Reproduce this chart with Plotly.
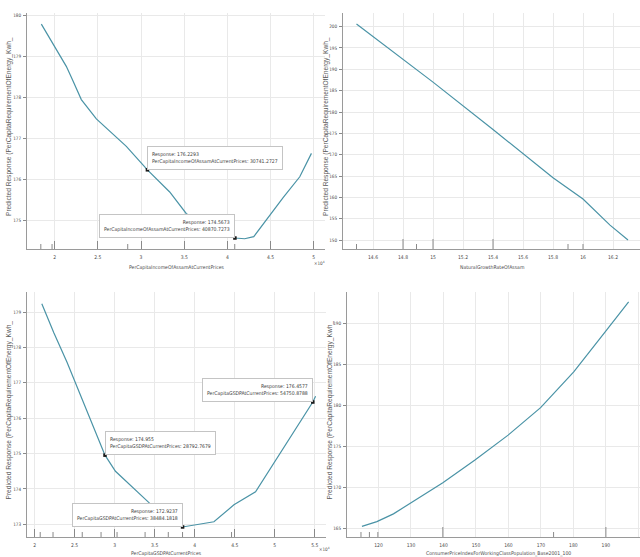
import plotly.graph_objects as go

W, H = 640, 557

# ---- partial dependence curves -------------------------------------------
income_x = [18460, 20000, 21350, 22050, 23090, 24830, 26370, 28300, 30741.2727,
            33320, 35250, 38000, 40000, 40870.7273, 42000, 43050, 44520, 46450,
            48380, 49730]
income_y = [179.78, 179.24, 178.75, 178.43, 177.94, 177.47, 177.18, 176.80, 176.2293,
            175.69, 175.16, 174.85, 174.63, 174.5673, 174.55, 174.60, 175.02, 175.55,
            176.06, 176.63]

growth_x = [14.49, 14.8, 15.0, 15.4, 15.8, 16.0, 16.18, 16.3]
growth_y = [200.6, 192.4, 187.0, 175.9, 164.6, 159.6, 153.5, 150.0]

gsdp_x = [20900, 22400, 24050, 26100, 27500, 28792.7679, 30100, 34250, 36000,
          38484.1818, 42400, 44900, 47600, 49900, 52400, 54750.8788, 55100]
gsdp_y = [179.24, 178.42, 177.58, 176.44, 175.66, 174.955, 174.50, 173.62, 173.28,
          172.9237, 173.07, 173.55, 173.92, 174.74, 175.60, 176.4577, 176.62]

cpi_x = [114.9, 119.5, 124.6, 129.8, 139.8, 149.8, 159.9, 169.9, 180.1, 190.2, 197.0]
cpi_y = [165.28, 165.85, 166.80, 168.10, 170.60, 173.40, 176.40, 179.75, 184.10,
         189.20, 192.65]

# ---- data tips (x, response, side of the box) ------------------------------
income_tips = [(30741.2727, 176.2293, "left"), (40870.7273, 174.5673, "right")]
gsdp_tips = [(28792.7679, 174.955, "left"), (38484.1818, 172.9237, "right"),
             (54750.8788, 176.4577, "right")]

# ---- observation rugs along the x axes (value, multiplicity) ---------------
income_rug = [(18400, 1), (19700, 1), (28460, 1), (40850, 1)]
growth_rug = [(14.49, 1), (14.8, 2), (14.89, 1), (15.0, 2), (15.4, 2), (15.9, 1), (16.0, 1)]
gsdp_rug = [(20700, 1), (22300, 1), (25950, 1), (28300, 1), (30300, 1), (33800, 1),
            (36700, 1), (38480, 1), (44600, 1)]
cpi_rug = [(114.6, 1), (117.2, 1), (119.8, 1), (139.8, 2), (173.9, 1), (190.0, 2)]

# ---- tick labels -----------------------------------------------------------
income_ticks = [20000, 25000, 30000, 35000, 40000, 45000, 50000]
income_ticktext = ["2", "2.5", "3", "3.5", "4", "4.5", "5"]
income_yticks = [175, 176, 177, 178, 179, 180]
growth_ticks = [14.6, 14.8, 15.0, 15.2, 15.4, 15.6, 15.8, 16.0, 16.2]
growth_ticktext = ["14.6", "14.8", "15", "15.2", "15.4", "15.6", "15.8", "16", "16.2"]
growth_yticks = [150, 155, 160, 165, 170, 175, 180, 185, 190, 195, 200]
gsdp_ticks = [20000, 25000, 30000, 35000, 40000, 45000, 50000, 55000]
gsdp_ticktext = ["2", "2.5", "3", "3.5", "4", "4.5", "5", "5.5"]
gsdp_yticks = [173, 174, 175, 176, 177, 178, 179]
cpi_ticks = [120, 130, 140, 150, 160, 170, 180, 190, 200]
cpi_ticktext = ["120", "130", "140", "150", "160", "170", "180", "190", "200"]
cpi_yticks = [165, 170, 175, 180, 185, 190]

y_title = "Predicted Response (PerCapitaRequirementOfEnergy_Kwh_"
x_titles = ["PerCapitaIncomeOfAssamAtCurrentPrices", "NaturalGrowthRateOfAssam",
            "PerCapitaGSDPAtCurrentPrices",
            "ConsumerPriceIndexForWorkingClassPopulation_Base2001_100"]
tip_names = ["PerCapitaIncomeOfAssamAtCurrentPrices", "PerCapitaGSDPAtCurrentPrices"]

LINE = "#4a93a6"
NARROW = "Liberation Sans Narrow, DejaVu Sans Condensed, Arial Narrow, sans-serif"
SANS = "Liberation Sans, Arial, sans-serif"
GRID = "#e9e9e9"
AXIS = "#9a9a9a"
TXT = "#4a4a4a"


def fx(p):
    return p / W


def fy(p):
    return 1 - p / H


# pixel boxes of the four panels: left, right, top, bottom
panels = [
    (27, 325, 13, 249),
    (343, 640, 13, 249),
    (27, 326, 292, 537),
    (347, 640, 292, 537),
]
xranges = [[16800, 51300], [14.4, 16.38], [19050, 56400], [110.3, 200.5]]
yranges = [[174.3, 180.05], [147.9, 203.2], [172.64, 179.57], [163.98, 193.85]]
xticks = [(income_ticks, income_ticktext), (growth_ticks, growth_ticktext),
          (gsdp_ticks, gsdp_ticktext), (cpi_ticks, cpi_ticktext)]
yticks = [income_yticks, growth_yticks, gsdp_yticks, cpi_yticks]
curves = [(income_x, income_y), (growth_x, growth_y), (gsdp_x, gsdp_y), (cpi_x, cpi_y)]
rugs = [income_rug, growth_rug, gsdp_rug, cpi_rug]
inside_ticks = [True, False, True, False]
ytitle_x = [9, 326, 9, 330]

fig = go.Figure()
layout = dict(
    width=W, height=H, margin=dict(l=0, r=0, t=0, b=0),
    paper_bgcolor="white", plot_bgcolor="white", showlegend=False,
    font=dict(family=NARROW, size=5, color=TXT),
)
shapes = []
annotations = []

for i, (l, r, t, b) in enumerate(panels):
    n = "" if i == 0 else str(i + 1)
    xa, ya = "x" + n, "y" + n
    tv, tt = xticks[i]
    layout["xaxis" + n] = dict(
        domain=[fx(l), fx(r)], range=xranges[i], anchor=ya,
        tickvals=tv, ticktext=tt, showgrid=True, gridcolor=GRID, gridwidth=1,
        zeroline=False, showline=True, linecolor=AXIS, linewidth=1,
        ticks="inside" if inside_ticks[i] else "", ticklen=8, tickcolor="#8a8a8a",
        tickfont=dict(family=NARROW, size=5, color=TXT), ticklabelstandoff=3,
    )
    layout["yaxis" + n] = dict(
        domain=[fy(b), fy(t)], range=yranges[i], anchor=xa,
        tickvals=yticks[i], showgrid=True, gridcolor=GRID, gridwidth=1,
        zeroline=False, showline=True, linecolor=AXIS, linewidth=1,
        ticks="outside", ticklen=3, tickcolor="#8a8a8a",
        tickfont=dict(family=NARROW, size=4.6, color=TXT), ticklabelstandoff=1,
    )
    cx, cy = curves[i]
    fig.add_trace(go.Scatter(x=cx, y=cy, mode="lines", xaxis=xa, yaxis=ya,
                             line=dict(color=LINE, width=1.2), hoverinfo="skip"))
    # rug of observations
    for val, cnt in rugs[i]:
        shapes.append(dict(type="line", xref=xa, yref=ya + " domain",
                           x0=val, x1=val, y0=0, y1=(5 if cnt == 1 else 10) / (b - t),
                           line=dict(color="#8a8a8a", width=1)))
    # y title
    annotations.append(dict(
        text=y_title, textangle=-90, xref="paper", yref="paper",
        x=fx(ytitle_x[i]), y=fy((t + b) / 2 - 4), xanchor="center", yanchor="middle",
        showarrow=False, font=dict(family=SANS, size=6.6, color="#5a5a5a")))

# x titles
title_pos = [(177, 267), (492, 267), (166, 553), (498, 553)]
for txt, (px, py) in zip(x_titles, title_pos):
    annotations.append(dict(text=txt, xref="paper", yref="paper", x=fx(px), y=fy(py),
                            xanchor="center", yanchor="middle", showarrow=False,
                            font=dict(family=NARROW, size=5.1, color=TXT)))

# exponent labels
for px, py in [(312, 263), (317, 549)]:
    annotations.append(dict(text="×10<sup>4</sup>", xref="paper", yref="paper",
                            x=fx(px), y=fy(py), xanchor="left", yanchor="middle",
                            showarrow=False, font=dict(family=NARROW, size=4.6, color=TXT)))

# data tips
for (tips, name, xa, ya) in [(income_tips, tip_names[0], "x", "y"),
                             (gsdp_tips, tip_names[1], "x3", "y3")]:
    fig.add_trace(go.Scatter(x=[t[0] for t in tips], y=[t[1] for t in tips],
                             mode="markers", xaxis=xa, yaxis=ya, hoverinfo="skip",
                             marker=dict(symbol="square", size=3.5, color="#1a1a1a")))
    for xv, yv, side in tips:
        rtxt = f"{yv:.4f}".rstrip("0").rstrip(".")
        annotations.append(dict(
            text=f"Response: {rtxt}<br>{name}: {xv:.4f}",
            xref=xa, yref=ya, x=xv, y=yv, xanchor=side, yanchor="bottom",
            align=side, showarrow=False, bgcolor="white", bordercolor="#c4c4c4",
            borderwidth=1, borderpad=4,
            font=dict(family=NARROW, size=5.1, color="#3c3c3c")))

layout["shapes"] = shapes
layout["annotations"] = annotations
fig.update_layout(**layout)
fig.write_html("out.html")
